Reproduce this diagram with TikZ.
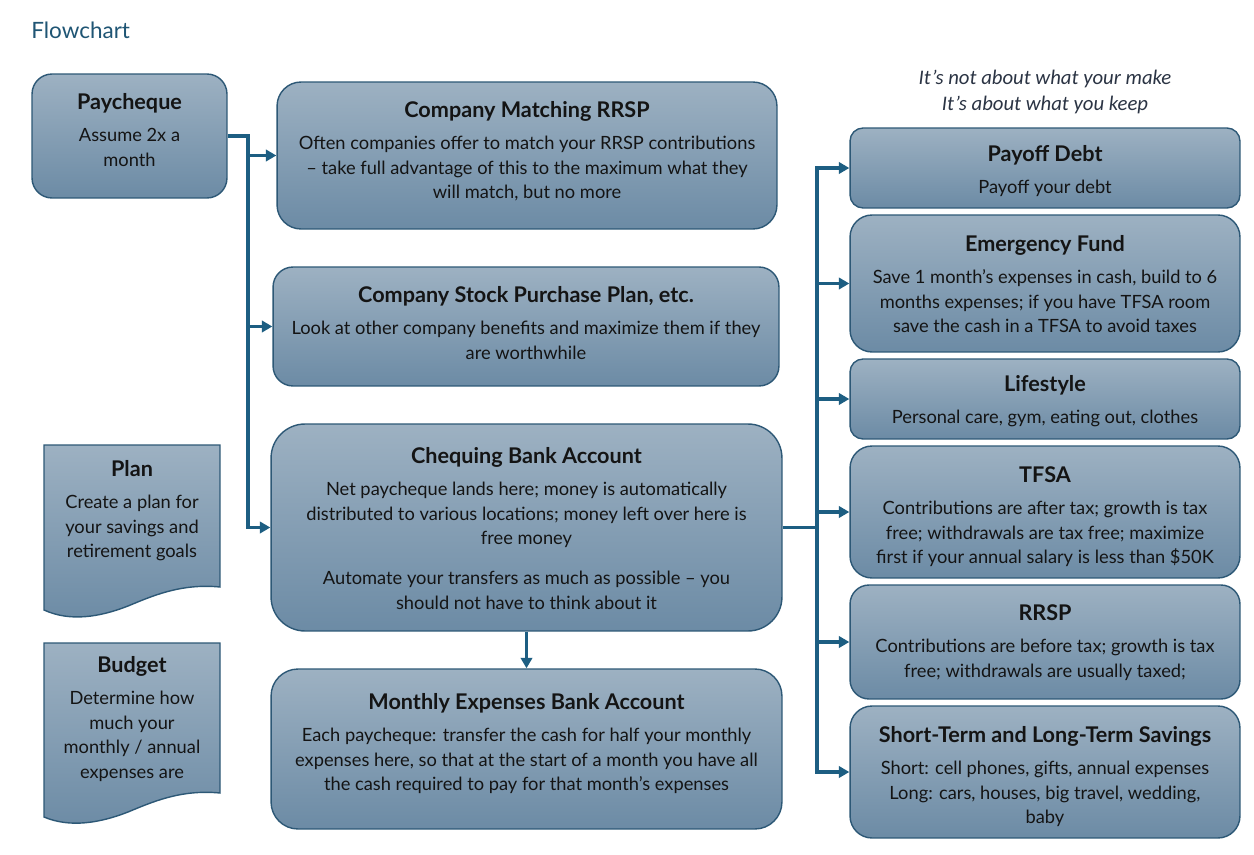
\documentclass[tikz,border=0pt]{standalone}
\usepackage{fontspec}
\setmainfont{Lato}
\newfontfamily\quotefont{Carlito}
\usetikzlibrary{arrows.meta}
\definecolor{topc}{HTML}{9DB1C2}
\definecolor{botc}{HTML}{6C8BA5}
\definecolor{bord}{HTML}{2D5876}
\definecolor{arr}{HTML}{1D5E82}
\definecolor{ttl}{HTML}{1F5574}
\definecolor{txt}{HTML}{141414}
\definecolor{quotec}{HTML}{2B3444}
\tikzset{
 box/.style n args={3}{draw=bord, line width=0.8pt, top color=topc, bottom color=botc, rounded corners=#3, minimum width=#1, minimum height=#2, inner sep=0pt},
 docshape/.style={draw=bord, line width=0.8pt, top color=topc, bottom color=botc},
 lbl/.style={anchor=north, align=center, inner sep=0pt, text=txt, font=\fontsize{10.4}{13.9}\selectfont},
 conn/.style={draw=arr, line width=2.1pt},
 arrow/.style={conn, -{Triangle[length=6pt,width=6.5pt]}},
}
\newcommand{\hd}[1]{{\fontsize{12.3}{14}\selectfont\bfseries #1}\\[4.6pt]}
\begin{document}
\begin{tikzpicture}[x=0.02cm,y=-0.02cm]
\useasboundingbox (0,0) rectangle (1254,855);
\fill[white] (0,0) rectangle (1254,855);

\node[anchor=west, text=ttl, font=\fontsize{12.8}{15}\selectfont, inner sep=0pt] (title) at (31,30) {Flowchart};
\node[anchor=north, align=center, inner sep=0pt, text=quotec, font=\quotefont\itshape\fontsize{11.8}{14.8}\selectfont] (quote) at (1045,70) {It’s not about what your make\\It’s about what you keep};

% boxes
\node[box={3.9cm}{2.48cm}{0.4cm}] (pay) at (129.5,136) {};
\node[box={10cm}{2.94cm}{0.48cm}] (rrspm) at (527,155.5) {};
\node[box={10.12cm}{2.38cm}{0.4cm}] (stock) at (526,326.5) {};
\node[box={10.22cm}{4.14cm}{0.68cm}] (cheq) at (526.5,527.5) {};
\node[box={10.22cm}{3.2cm}{0.54cm}] (month) at (526.5,749) {};
\node[box={7.8cm}{1.6cm}{0.26cm}] (debt) at (1045,168) {};
\node[box={7.8cm}{2.74cm}{0.44cm}] (emerg) at (1045,283.5) {};
\node[box={7.8cm}{1.6cm}{0.26cm}] (life) at (1045,399) {};
\node[box={7.8cm}{2.64cm}{0.44cm}] (tfsa) at (1045,512) {};
\node[box={7.8cm}{2.28cm}{0.38cm}] (rrsp) at (1045,642) {};
\node[box={7.8cm}{2.64cm}{0.44cm}] (save) at (1045,772) {};

% document shapes
\path[docshape] (44,445) -- (220,445) -- (220,587) .. controls (180,583) and (150,597) .. (128,606) .. controls (100,617) and (70,622) .. (44,610) -- cycle;
\path[docshape] (44,643) -- (220,643) -- (220,793) .. controls (180,789) and (150,803) .. (128,812) .. controls (100,823) and (70,828) .. (44,817) -- cycle;

% texts
\node[lbl] (payT) at (129.5,93) {\hd{Paycheque}Assume 2x a\\month};
\node[lbl] (rrspmT) at (527,101) {\hd{Company Matching RRSP}Often companies offer to match your RRSP contributions\\– take full advantage of this to the maximum what they\\will match, but no more};
\node[lbl] (stockT) at (526,286) {\hd{Company Stock Purchase Plan, etc.}Look at other company benefits and maximize them if they\\are worthwhile};
\node[lbl] (cheqT) at (526.5,447) {\hd{Chequing Bank Account}Net paycheque lands here; money is automatically\\distributed to various locations; money left over here is\\free money\\[8.8pt]Automate your transfers as much as possible – you\\should not have to think about it};
\node[lbl] (monthT) at (526.5,693) {\hd{Monthly Expenses Bank Account}Each paycheque: transfer the cash for half your monthly\\expenses here, so that at the start of a month you have all\\the cash required to pay for that month’s expenses};
\node[lbl] (debtT) at (1045,145) {\hd{Payoff Debt}Payoff your debt};
\node[lbl] (emergT) at (1045,235) {\hd{Emergency Fund}Save 1 month’s expenses in cash, build to 6\\months expenses; if you have TFSA room\\save the cash in a TFSA to avoid taxes};
\node[lbl] (lifeT) at (1045,375) {\hd{Lifestyle}Personal care, gym, eating out, clothes};
\node[lbl] (tfsaT) at (1045,466) {\hd{TFSA}Contributions are after tax; growth is tax\\free; withdrawals are tax free; maximize\\first if your annual salary is less than \$50K};
\node[lbl] (rrspT) at (1045,604) {\hd{RRSP}Contributions are before tax; growth is tax\\free; withdrawals are usually taxed;};
\node[lbl] (saveT) at (1045,726) {\hd{Short-Term and Long-Term Savings}Short: cell phones, gifts, annual expenses\\Long: cars, houses, big travel, wedding,\\baby};
\node[lbl] (planT) at (132,460) {\hd{Plan}Create a plan for\\your savings and\\retirement goals};
\node[lbl] (budgetT) at (132,656) {\hd{Budget}Determine how\\much your\\monthly / annual\\expenses are};

% connectors
\coordinate (j1) at (248,136);
\draw[arrow] (pay.east) -- (j1) |- (cheq.west);
\draw[arrow] (j1 |- rrspm.west) -- (rrspm.west);
\draw[arrow] (j1 |- stock.west) -- (stock.west);
\coordinate (j2) at (817,527.5);
\draw[conn] (cheq.east) -- (j2);
\draw[conn, line cap=rect] (j2 |- debt.west) -- (j2 |- save.west);
\foreach \b in {debt,emerg,life,tfsa,rrsp,save}{
  \draw[arrow] (j2 |- \b.west) -- (\b.west);
}
\draw[arrow] (cheq.south) -- (month.north);
\end{tikzpicture}
\end{document}
